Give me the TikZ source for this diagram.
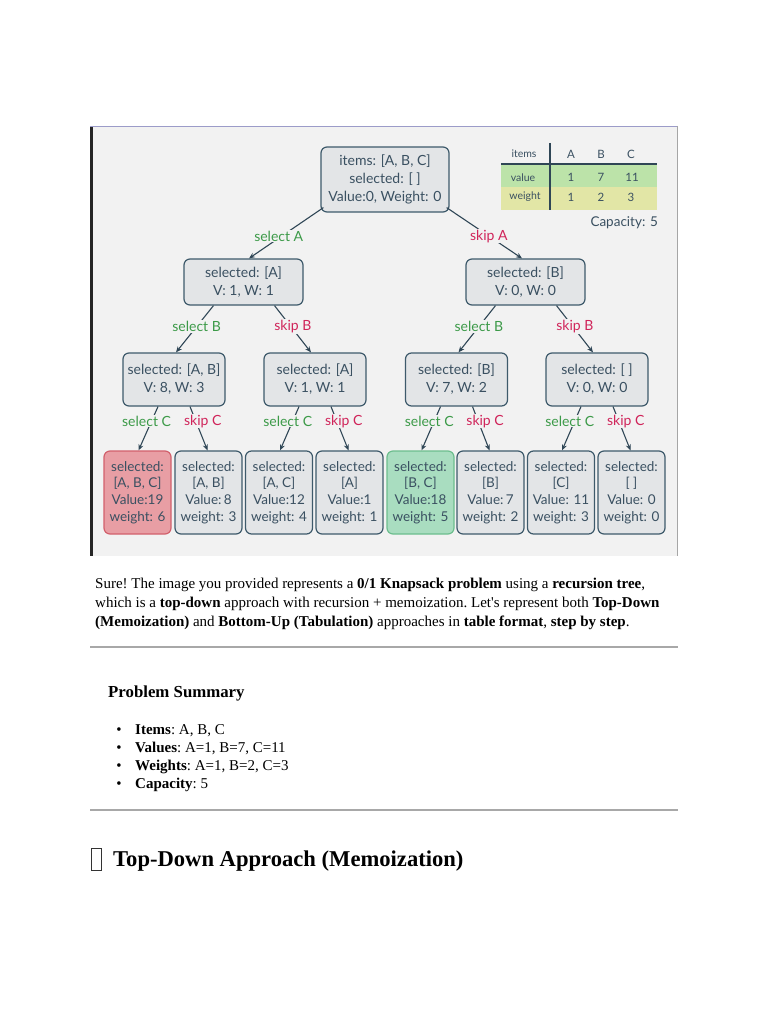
\documentclass[tikz,border=0pt]{standalone}
\usepackage{fontspec}
\setmainfont{Liberation Serif}[Ligatures=TeXOff]
\newfontfamily\treefont{Lato}
\usetikzlibrary{arrows.meta,calc}
\definecolor{bgc}{HTML}{F2F2F2}
\definecolor{nodefill}{HTML}{E3E5E7}
\definecolor{nodedraw}{HTML}{3E5A6B}
\definecolor{txt}{HTML}{3A5061}
\definecolor{edgec}{HTML}{2F4656}
\definecolor{selgreen}{HTML}{3C9A48}
\definecolor{skipred}{HTML}{D0245A}
\definecolor{redfill}{HTML}{E89EA4}
\definecolor{reddraw}{HTML}{D2606C}
\definecolor{greenfill}{HTML}{A9DDC0}
\definecolor{greendraw}{HTML}{6DBE8E}
\definecolor{rowgreen}{HTML}{BCE3A9}
\definecolor{rowyellow}{HTML}{E2E6A6}
\definecolor{rulec}{HTML}{A8A8A8}
\begin{document}
\begin{tikzpicture}[x=1pt,y=-1pt,
  tnode/.style={draw=nodedraw, fill=nodefill, rounded corners=6pt, line width=1.2pt,
    inner sep=0pt, align=center, text=txt, font=\treefont\fontsize{14}{18}\selectfont},
  midnode/.style={tnode, minimum width=119pt, minimum height=46pt},
  lownode/.style={tnode, minimum width=102pt, minimum height=53pt},
  leaf/.style={tnode, minimum width=67pt, minimum height=83pt,
    font=\treefont\fontsize{13.5}{16.7}\selectfont},
  redleaf/.style={leaf, fill=redfill, draw=reddraw},
  greenleaf/.style={leaf, fill=greenfill, draw=greendraw},
  edge/.style={draw=edgec, line width=1.1pt, -{Stealth[length=6pt,width=5pt]}},
  sel/.style={fill=bgc, inner sep=1pt, text=selgreen, font=\treefont\fontsize{14}{14}\selectfont},
  skp/.style={fill=bgc, inner sep=1pt, text=skipred, font=\treefont\fontsize{14}{14}\selectfont},
  tabtxt/.style={text=txt, inner sep=0pt, font=\treefont\fontsize{10.5}{10.5}\selectfont},
  tabnum/.style={text=txt, inner sep=0pt, font=\treefont\fontsize{11.5}{11.5}\selectfont},
  body/.style={anchor=base west, inner sep=0pt, font=\fontsize{15}{15}\selectfont\frenchspacing},
  hrule/.style={draw=rulec, line width=2pt}
]
\useasboundingbox[fill=white] (0,0) rectangle (768,1024);

% diagram frame
\fill[bgc] (90,126) rectangle (678,556);
\draw[draw=black!85, line width=2.2pt] (91.5,126) -- (91.5,556);
\draw[draw=blue!30!gray!60, line width=1pt] (90,126.5) -- (678,126.5);
\draw[draw=gray!70, line width=1pt] (677.5,126) -- (677.5,556);

% table
\fill[rowgreen] (501,164) rectangle (657,187);
\fill[rowyellow] (501,187) rectangle (657,210);
\draw[draw=edgec, line width=2.5pt] (501,164) -- (657,164);
\draw[draw=edgec, line width=2pt] (550,143) -- (550,210);
\node[tabtxt] (th0) at (524,154) {items};
\node[tabnum] (th1) at (571,154) {A};
\node[tabnum] (th2) at (601,154) {B};
\node[tabnum] (th3) at (631,154) {C};
\node[tabtxt] (tv0) at (523,178) {value};
\node[tabnum] (tv1) at (571,177) {1};
\node[tabnum] (tv2) at (601,177) {7};
\node[tabnum] (tv3) at (632,177) {11};
\node[tabtxt] (tw0) at (525,197) {weight};
\node[tabnum] (tw1) at (571,197) {1};
\node[tabnum] (tw2) at (601,197) {2};
\node[tabnum] (tw3) at (631,197) {3};
\node[text=txt, inner sep=0pt, anchor=east, font=\treefont\fontsize{13.5}{13.5}\selectfont] (cap) at (658,223) {Capacity: 5};

% tree nodes
\node[tnode, minimum width=128pt, minimum height=65pt] (root) at (385,179.5)
  {items: [A, B, C]\\selected: [ ]\\Value:0, Weight: 0};
\node[midnode] (nA) at (243.5,282) {selected: [A]\\V: 1, W: 1};
\node[midnode] (nB) at (525.5,282) {selected: [B]\\V: 0, W: 0};
\node[lownode] (LL) at (174,379.5) {selected: [A, B]\\V: 8, W: 3};
\node[lownode] (LR) at (315,379.5) {selected: [A]\\V: 1, W: 1};
\node[lownode] (RL) at (456.5,379.5) {selected: [B]\\V: 7, W: 2};
\node[lownode] (RR) at (597,379.5) {selected: [ ]\\V: 0, W: 0};
\node[redleaf] (f1) at (137.5,492.5) {selected:\\{}[A, B, C]\\Value:19\\weight: 6};
\node[leaf] (f2) at (208.5,492.5) {selected:\\{}[A, B]\\Value:\,8\\weight: 3};
\node[leaf] (f3) at (279,492.5) {selected:\\{}[A, C]\\Value:12\\weight: 4};
\node[leaf] (f4) at (349.5,492.5) {selected:\\{}[A]\\Value:1\\weight: 1};
\node[greenleaf] (f5) at (420.5,492.5) {selected:\\{}[B, C]\\Value:18\\weight: 5};
\node[leaf] (f6) at (490.5,492.5) {selected:\\{}[B]\\Value:\,7\\weight: 2};
\node[leaf] (f7) at (561,492.5) {selected:\\{}[C]\\Value: 11\\weight: 3};
\node[leaf] (f8) at (631.5,492.5) {selected:\\{}[ ]\\Value: 0\\weight: 0};

% edges level 0 -> 1
\draw[edge] ($(root.south west)+(3,-5)$) -- node[sel,pos=.56,xshift=-3pt] (lA1) {select A} ($(nA.north)+(5.5,0)$);
\draw[edge] ($(root.south east)+(-3,-5)$) -- node[skp,pos=.56] (lA2) {skip A} ($(nB.north)+(-3.5,0)$);
% level 1 -> 2
\draw[edge] ($(nA.south)+(-30,0)$) -- node[sel,pos=.45] (lB1) {select B} ($(LL.north)+(2,0)$);
\draw[edge] ($(nA.south)+(31,0)$) -- node[skp,pos=.45,xshift=2pt] (lB2) {skip B} ($(LR.north)+(-4,0)$);
\draw[edge] ($(nB.south)+(-30,0)$) -- node[sel,pos=.45] (lB3) {select B} ($(RL.north)+(2,0)$);
\draw[edge] ($(nB.south)+(31,0)$) -- node[skp,pos=.45,xshift=2pt] (lB4) {skip B} ($(RR.north)+(-4,0)$);
% level 2 -> 3
\draw[edge] ($(LL.south)+(-16,0)$) -- node[sel,pos=.33,xshift=-5pt] (lC1) {select C} ($(f1.north)+(1,0)$);
\draw[edge] ($(LL.south)+(16,0)$) -- node[skp,pos=.33,xshift=7pt] (lC2) {skip C} ($(f2.north)+(-1,0)$);
\draw[edge] ($(LR.south)+(-16,0)$) -- node[sel,pos=.33,xshift=-5pt] (lC3) {select C} ($(f3.north)+(1,0)$);
\draw[edge] ($(LR.south)+(16,0)$) -- node[skp,pos=.33,xshift=7pt] (lC4) {skip C} ($(f4.north)+(-1,0)$);
\draw[edge] ($(RL.south)+(-16,0)$) -- node[sel,pos=.33,xshift=-5pt] (lC5) {select C} ($(f5.north)+(1,0)$);
\draw[edge] ($(RL.south)+(16,0)$) -- node[skp,pos=.33,xshift=7pt] (lC6) {skip C} ($(f6.north)+(-1,0)$);
\draw[edge] ($(RR.south)+(-16,0)$) -- node[sel,pos=.33,xshift=-5pt] (lC7) {select C} ($(f7.north)+(1,0)$);
\draw[edge] ($(RR.south)+(16,0)$) -- node[skp,pos=.33,xshift=7pt] (lC8) {skip C} ($(f8.north)+(-1,0)$);

% body text
\node[body] (p1) at (95,588) {Sure! The image you provided represents a \textbf{0/1 Knapsack problem} using a \textbf{recursion tree},};
\node[body] (p2) at (95,607) {which is a \textbf{top-down} approach with recursion + memoization. Let's represent both \textbf{Top-Down}};
\node[body] (p3) at (95,626) {\textbf{(Memoization)} and \textbf{Bottom-Up (Tabulation)} approaches in \textbf{table format}, \textbf{step by step}.};

\draw[hrule] (90,647) -- (678,647);

\node[anchor=base west, inner sep=0pt, font=\fontsize{16.8}{16.8}\selectfont\bfseries] (ps) at (108,697) {Problem Summary};

\node[body, anchor=base] (b1) at (119,734) {•};
\node[body, anchor=base] (b2) at (119,752) {•};
\node[body, anchor=base] (b3) at (119,770) {•};
\node[body, anchor=base] (b4) at (119,788) {•};
\node[body] (i1) at (135,734) {\textbf{Items}: A, B, C};
\node[body] (i2) at (135,752) {\textbf{Values}: A=1, B=7, C=11};
\node[body] (i3) at (135,770) {\textbf{Weights}: A=1, B=2, C=3};
\node[body] (i4) at (135,788) {\textbf{Capacity}: 5};

\draw[hrule] (90,810) -- (678,810);

% missing-glyph box before the heading
\draw[draw=black!80, line width=0.9pt] (91.5,848.5) rectangle (101,870);
\node[anchor=base west, inner sep=0pt, font=\fontsize{22.6}{22.6}\selectfont\bfseries] (h2) at (113,866)
  {Top-Down Approach (Memoization)};
\end{tikzpicture}
\end{document}
